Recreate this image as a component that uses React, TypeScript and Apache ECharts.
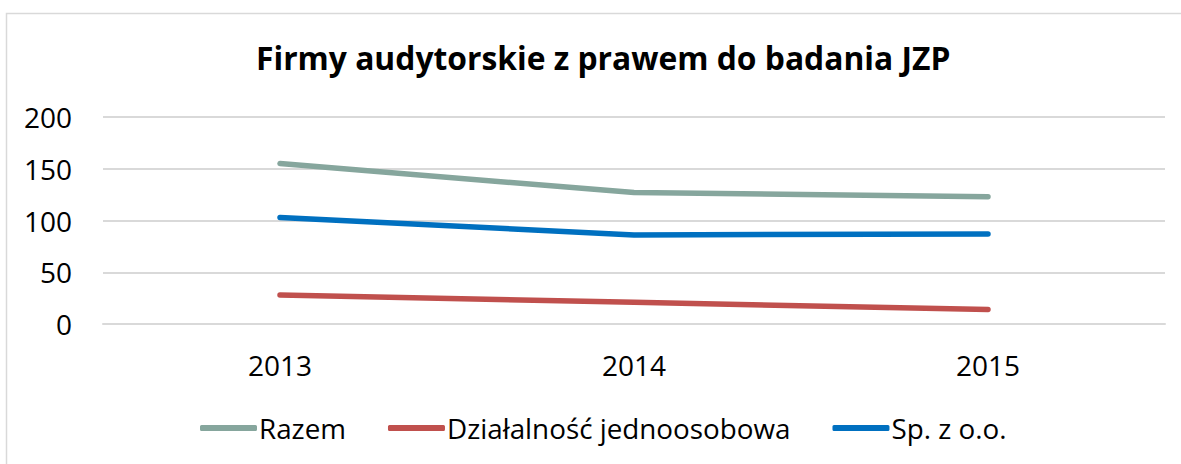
import React, { useEffect, useRef } from "react";
import * as echarts from "echarts";

const title = "Firmy audytorskie z prawem do badania JZP";
const categories = ["2013", "2014", "2015"];
const razem = [155, 127, 123];
const dzialalnosc = [28, 21, 14];
const spzoo = [103, 86, 87];
const seriesNames = ["Razem", "Działalność jednoosobowa", "Sp. z o.o."];
const colors = ["#86A69D", "#C0504D", "#0070C0"];

const FONT = "'Open Sans', sans-serif";

export default function App() {
  const ref = useRef<HTMLDivElement>(null);
  useEffect(() => {
    document.body.style.margin = "0";
    if (!ref.current) return;
    const chart = echarts.init(ref.current, undefined, { renderer: "svg" });
    const values = [razem, dzialalnosc, spzoo];
    chart.setOption({
      animation: false,
      backgroundColor: "#ffffff",
      title: {
        text: title,
        left: 251,
        top: 36,
        textStyle: { fontFamily: FONT, fontWeight: "bold", fontSize: 31.8, color: "#000" },
      },
      graphic: [
        {
          type: "rect",
          shape: { x: 6.5, y: 13.5, width: 1300, height: 600 },
          style: { fill: "none", stroke: "#d9d9d9", lineWidth: 1.5 },
          silent: true,
        },
      ],
      grid: { left: 103, right: 16, top: 117, bottom: 140 },
      xAxis: {
        type: "category",
        data: categories,
        boundaryGap: true,
        axisLine: { show: true, lineStyle: { color: "#d9d9d9", width: 2 } },
        axisTick: { show: false },
        axisLabel: { fontFamily: FONT, fontSize: 28, color: "#000", margin: 27 },
      },
      yAxis: {
        type: "value",
        min: 0,
        max: 200,
        interval: 50,
        axisLine: { show: false },
        axisTick: { show: false },
        splitLine: { lineStyle: { color: "#d9d9d9", width: 2 } },
        axisLabel: { fontFamily: FONT, fontSize: 28, color: "#000", margin: 31 },
      },
      legend: {
        bottom: 17,
        left: 195,
        itemWidth: 57,
        itemHeight: 6,
        itemGap: 42,
        icon: "roundRect",
        textStyle: { fontFamily: FONT, fontSize: 27.8, color: "#000", padding: [0, 0, 0, -3] },
        data: seriesNames,
      },
      series: seriesNames.map((name, i) => ({
        name,
        type: "line",
        data: values[i],
        showSymbol: false,
        symbol: "none",
        lineStyle: { color: colors[i], width: 5.5, cap: "round", join: "round" },
        itemStyle: { color: colors[i] },
      })),
    });
    return () => chart.dispose();
  }, []);
  return <div ref={ref} style={{ width: 1181, height: 464 }} />;
}
